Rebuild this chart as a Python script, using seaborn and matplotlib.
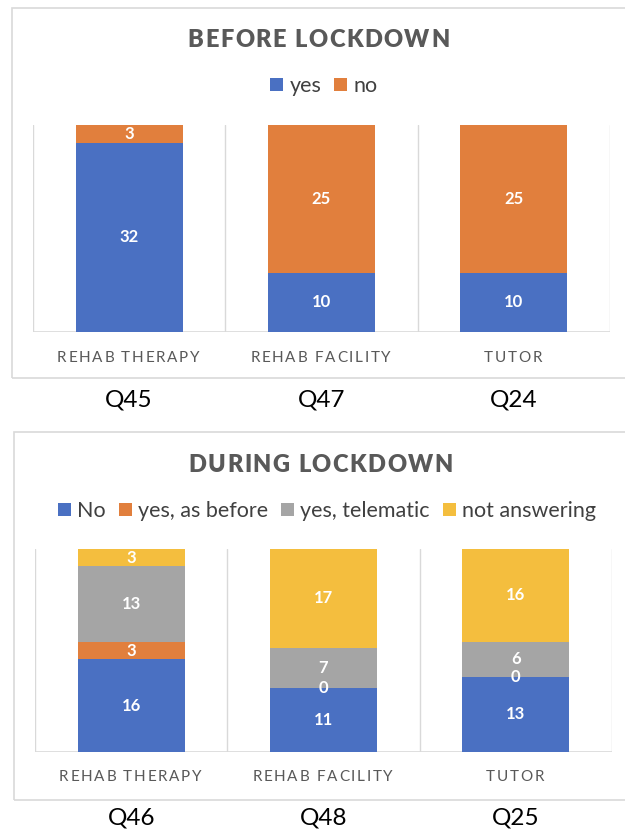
import matplotlib
matplotlib.use("Agg")
import matplotlib.pyplot as plt
from matplotlib.patches import Rectangle, Patch
from matplotlib.transforms import IdentityTransform
import seaborn as sns
import pandas as pd

# ---------------- data ----------------
categories = ["REHAB THERAPY", "REHAB FACILITY", "TUTOR"]
before_questions = ["Q45", "Q47", "Q24"]
before_series = ["yes", "no"]
before_yes = [32, 10, 10]
before_no = [3, 25, 25]

during_questions = ["Q46", "Q48", "Q25"]
during_series = ["No", "yes, as before", "yes, telematic", "not answering"]
during_no = [16, 11, 13]
during_as_before = [3, 0, 0]
during_telematic = [13, 7, 6]
during_not_answering = [3, 17, 16]

BLUE, ORANGE, GREY, YELLOW = "#4A70C2", "#E17F3D", "#A5A5A5", "#F4BE3E"

sns.set_theme(style="white")
FONT = ["Lato", "DejaVu Sans"]
plt.rcParams["font.family"] = FONT

W, H = 625, 832
fig = plt.figure(figsize=(W / 100, H / 100), dpi=100)
renderer = fig.canvas.get_renderer()


def text_width(s, **kw):
    t = fig.text(0, 0, s, **kw)
    w = t.get_window_extent(renderer).width
    t.remove()
    return w


def tracked(xc, ytop_px, s, tracking, **kw):
    """Draw letter-spaced text centred at xc (pixels from left), y in pixels from top."""
    xw = text_width("X", **kw)
    offs = [text_width(s[:i] + "X", **kw) - xw for i in range(len(s))]
    total = text_width(s, **kw) + tracking * (len(s) - 1)
    x0 = xc - total / 2
    for i, ch in enumerate(s):
        if ch == " ":
            continue
        fig.text(x0 + offs[i] + tracking * i, H - ytop_px, ch, transform=IdentityTransform(),
                 ha="left", va="center", **kw)


def box(x0, y0, x1, y1):
    fig.patches.append(Rectangle((x0 / W, 1 - y1 / H), (x1 - x0) / W, (y1 - y0) / H,
                                 transform=fig.transFigure, fill=False,
                                 edgecolor="#D9D9D9", linewidth=1.2, zorder=0))


def stacked(ax, series_vals, colors):
    tops = []
    run = [0] * len(categories)
    for vals in series_vals:
        run = [r + v for r, v in zip(run, vals)]
        tops.append(list(run))
    for k in range(len(series_vals) - 1, -1, -1):
        df = pd.DataFrame({"cat": categories, "top": tops[k]})
        sns.barplot(data=df, x="cat", y="top", color=colors[k], width=0.555,
                    saturation=1, linewidth=0, ax=ax, zorder=2)
    base = [0] * len(categories)
    for vals in series_vals:
        for i, v in enumerate(vals):
            ax.text(i, base[i] + v / 2, str(v), ha="center", va="center",
                    color="white", fontsize=12, fontweight="bold", zorder=5)
            base[i] += v
    ax.set_xlim(-0.5, 2.5)
    ax.set_ylim(0, 35)
    for xv in [-0.5, 0.5, 1.5, 2.5]:
        ax.axvline(xv, color="#D9D9D9", linewidth=1, zorder=1)
    ax.axhline(0, color="#D9D9D9", linewidth=1.2, zorder=1)
    ax.set_axis_off()


def panel(left, right, ytop, ybot, title, title_y, legend_labels, legend_colors,
          legend_y, legend_cx, series_vals, colors, cat_y, qs, q_y, boxcoords):
    box(*boxcoords)
    ax = fig.add_axes([left / W, 1 - ybot / H, (right - left) / W, (ybot - ytop) / H])
    stacked(ax, series_vals, colors)
    cx = (left + right) / 2
    tracked(cx - 3, title_y, title, 1.5, fontsize=17, fontweight="heavy", color="#595959")
    handles = [Patch(facecolor=c, edgecolor="none") for c in legend_colors]
    fig.legend(handles, legend_labels, loc="center", bbox_to_anchor=(legend_cx / W, 1 - legend_y / H),
               ncol=len(legend_labels), frameon=False, fontsize=15.5,
               handlelength=0.6, handleheight=0.6, handletextpad=0.3,
               columnspacing=0.6, labelcolor="#404040", borderpad=0, borderaxespad=0)
    step = (right - left) / 3
    for i, (c, q) in enumerate(zip(categories, qs)):
        x = left + step * (i + 0.5)
        tracked(x - 1, cat_y, c, 1.7, fontsize=11, color="#595959")
        fig.text(x / W, 1 - q_y / H, q, ha="center", va="center", fontsize=17.5, color="black")


panel(33, 610, 125, 332, "BEFORE LOCKDOWN", 40, before_series, [BLUE, ORANGE], 86, 324,
      [before_yes, before_no], [BLUE, ORANGE], 358, before_questions, 400,
      (12, 8, 640, 378))

panel(35, 612, 549, 752, "DURING LOCKDOWN", 465, during_series, [BLUE, ORANGE, GREY, YELLOW], 511, 327,
      [during_no, during_as_before, during_telematic, during_not_answering],
      [BLUE, ORANGE, GREY, YELLOW], 777, during_questions, 818,
      (14, 432, 640, 800))

fig.savefig("out.png", dpi=100)
